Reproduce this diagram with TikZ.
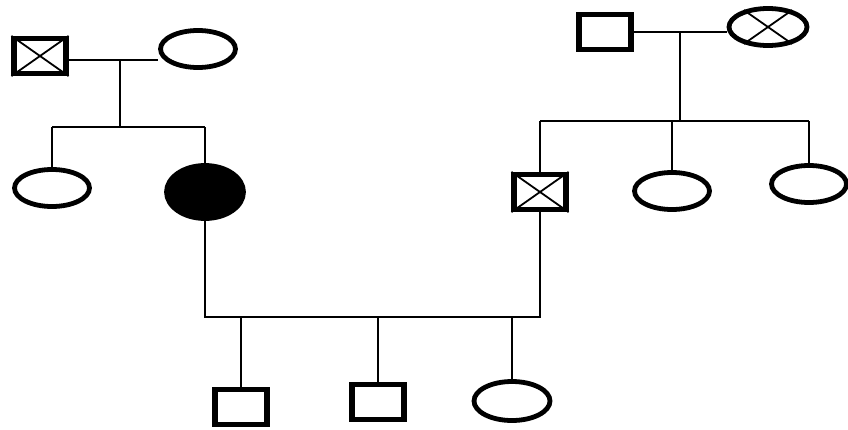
\documentclass[tikz,border=0pt]{standalone}
\usetikzlibrary{shapes.geometric}
\begin{document}
\begin{tikzpicture}[x=1pt,y=-1pt,
  male/.style={draw=black,line width=5.2pt,rectangle,minimum width=52pt,minimum height=35pt,inner sep=0pt,fill=white},
  female/.style={draw=black,line width=4.8pt,ellipse,minimum width=75pt,minimum height=37pt,inner sep=0pt,fill=white},
  link/.style={line width=2.3pt,black},
  xline/.style={line width=1.8pt,black}]
\useasboundingbox[fill=white] (0,0) rectangle (848,429);
% left grandparents
\node[male] (gf1) at (40,56) {};
\node[female] (gm1) at (198,49) {};
\draw[xline] (gf1.north west) -- (gf1.south east) (gf1.north east) -- (gf1.south west);
\coordinate (m1) at (120,60);
\coordinate (sl1) at (52,127);
\coordinate (sr1) at (205,127);
\draw[link] (gf1.east |- m1) -- (m1 -| gm1.west);
\draw[link] (m1) -- (m1 |- sl1);
\draw[link] (sl1) -- (sr1);
% left children
\node[female] (s1) at (52,188) {};
\node[female,fill=black,minimum width=77pt,minimum height=53pt] (p1) at (205,192) {};
\draw[link] (sl1) -- (s1);
\draw[link] (sr1) -- (p1);
% right grandparents
\node[male] (gf2) at (605,32) {};
\node[female,minimum width=78pt] (gm2) at (768,27) {};
\draw[xline] (gm2.145) -- (gm2.-35) (gm2.35) -- (gm2.-145);
\coordinate (m2) at (680,32);
\coordinate (sl2) at (540,121);
\coordinate (sr2) at (809,121);
\draw[link] (gf2.east |- m2) -- (m2 -| gm2.west);
\draw[link] (m2) -- (m2 |- sl2);
\draw[link] (sl2) -- (sr2);
% right children
\node[male] (p2) at (540,192) {};
\draw[xline] (p2.north west) -- (p2.south east) (p2.north east) -- (p2.south west);
\node[female] (s2) at (672,191) {};
\node[female] (s3) at (809,184) {};
\draw[link] (sl2) -- (p2);
\draw[link] (s2.north |- sl2) -- (s2);
\draw[link] (sr2) -- (s3);
% couple and offspring
\coordinate (cl) at (205,317);
\coordinate (cr) at (540,317);
\draw[link] (p1) -- (cl) -- (cr) -- (p2);
\node[male] (c1) at (241,407) {};
\node[male] (c2) at (378,402) {};
\node[female,minimum width=76pt,minimum height=39pt] (c3) at (512,401) {};
\draw[link] (c1.north |- cl) -- (c1);
\draw[link] (c2.north |- cl) -- (c2);
\draw[link] (c3.north |- cl) -- (c3);
\end{tikzpicture}
\end{document}
